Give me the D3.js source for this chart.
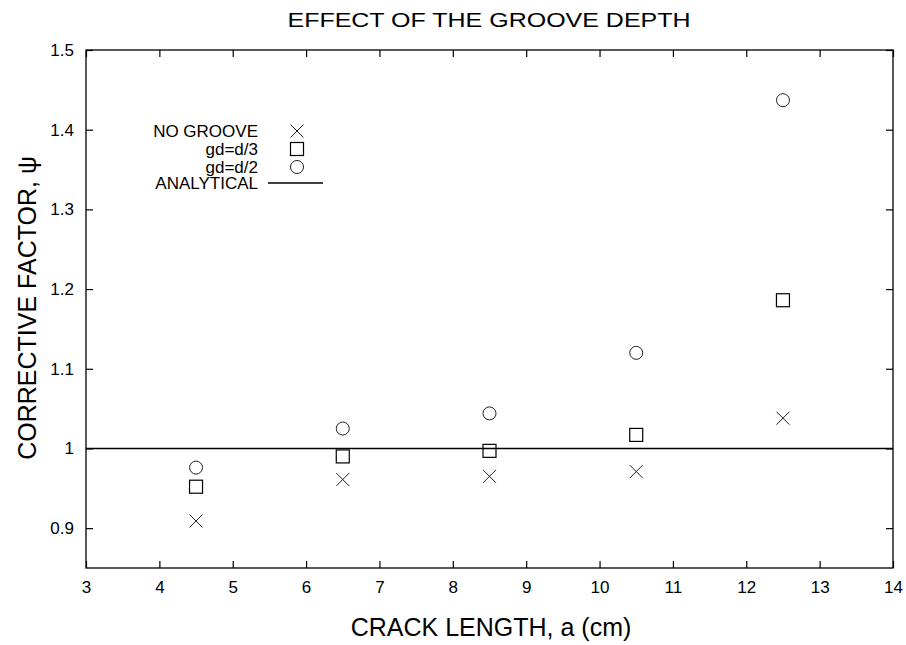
<!DOCTYPE html>
<html>
<head>
<meta charset="utf-8">
<script src="https://cdn.jsdelivr.net/npm/d3@7"></script>
<style>
  html, body { margin: 0; padding: 0; background: #fff; }
  svg { display: block; font-family: "Liberation Sans", Arial, Helvetica, sans-serif; }
</style>
</head>
<body>
<svg id="chart" width="906" height="645"></svg>
<script>
// ---- data ----
const crackLength = [4.5, 6.5, 8.5, 10.5, 12.5];
const noGroove    = [0.909, 0.961, 0.965, 0.971, 1.038];
const gdThird     = [0.952, 0.990, 0.997, 1.017, 1.186];
const gdHalf      = [0.976, 1.025, 1.044, 1.120, 1.437];
const analytical  = 1.0;
const xTicks = [3, 4, 5, 6, 7, 8, 9, 10, 11, 12, 13, 14];
const yTicks = [0.9, 1, 1.1, 1.2, 1.3, 1.4, 1.5];
const legendLabels = ["NO GROOVE", "gd=d/3", "gd=d/2", "ANALYTICAL"];

// ---- layout ----
const svg = d3.select("#chart");
const pLeft = 86, pRight = 893, pTop = 50, pBottom = 568;
const x = d3.scaleLinear().domain([3, 14]).range([pLeft, pRight]);
const y = d3.scaleLinear().domain([0.85, 1.5]).range([pBottom, pTop]);
const tickLen = 7;

// frame
svg.append("rect").attr("x", pLeft).attr("y", pTop)
  .attr("width", pRight - pLeft).attr("height", pBottom - pTop)
  .attr("fill", "none").attr("stroke", "#000").attr("stroke-width", 1.3);

// axes (ticks inward, mirrored)
const fmt = d => String(d);
const bottomAxis = svg.append("g").attr("transform", `translate(0,${pBottom})`)
  .call(d3.axisBottom(x).tickValues(xTicks).tickFormat(fmt).tickSizeInner(-tickLen).tickSizeOuter(0).tickPadding(13));
const topAxis = svg.append("g").attr("transform", `translate(0,${pTop})`)
  .call(d3.axisTop(x).tickValues(xTicks).tickFormat("").tickSizeInner(-tickLen).tickSizeOuter(0));
const leftAxis = svg.append("g").attr("transform", `translate(${pLeft},0)`)
  .call(d3.axisLeft(y).tickValues(yTicks).tickFormat(fmt).tickSizeInner(-tickLen).tickSizeOuter(0).tickPadding(12));
const rightAxis = svg.append("g").attr("transform", `translate(${pRight},0)`)
  .call(d3.axisRight(y).tickValues(yTicks).tickFormat("").tickSizeInner(-tickLen).tickSizeOuter(0));

[bottomAxis, topAxis, leftAxis, rightAxis].forEach(g => {
  g.select(".domain").remove();
  g.attr("font-size", null).attr("font-family", null);
  g.selectAll(".tick line").attr("stroke", "#000").attr("stroke-width", 1.2);
  g.selectAll("text").attr("fill", "#000").style("font-size", "17px")
    .style("font-family", "'Liberation Sans', Arial, sans-serif");
});

// analytical line
svg.append("line")
  .attr("x1", x(3)).attr("x2", x(14))
  .attr("y1", y(analytical)).attr("y2", y(analytical))
  .attr("stroke", "#000").attr("stroke-width", 1.5);

// markers
const s = 6.5;
const crossPath = (cx, cy) => `M${cx - s},${cy - s}L${cx + s},${cy + s}M${cx - s},${cy + s}L${cx + s},${cy - s}`;
const pts = (vals) => crackLength.map((a, i) => ({ a, v: vals[i] }));

svg.append("g").selectAll("path").data(pts(noGroove)).join("path")
  .attr("d", d => crossPath(x(d.a), y(d.v)))
  .attr("stroke", "#222").attr("stroke-width", 1).attr("fill", "none");

svg.append("g").selectAll("rect").data(pts(gdThird)).join("rect")
  .attr("x", d => x(d.a) - s).attr("y", d => y(d.v) - s)
  .attr("width", 2 * s).attr("height", 2 * s)
  .attr("stroke", "#000").attr("stroke-width", 1.2).attr("fill", "none");

svg.append("g").selectAll("circle").data(pts(gdHalf)).join("circle")
  .attr("cx", d => x(d.a)).attr("cy", d => y(d.v)).attr("r", s)
  .attr("stroke", "#222").attr("stroke-width", 1).attr("fill", "none");

// legend
const legX = 258, legSym = 297;
const legY = [131, 149, 167, 183];
legendLabels.forEach((t, i) => {
  svg.append("text").attr("x", legX).attr("y", legY[i] + 6)
    .attr("text-anchor", "end").style("font-size", "17px").text(t);
});
svg.append("path").attr("d", crossPath(legSym, legY[0]))
  .attr("stroke", "#222").attr("stroke-width", 1).attr("fill", "none");
svg.append("rect").attr("x", legSym - s).attr("y", legY[1] - s)
  .attr("width", 2 * s).attr("height", 2 * s)
  .attr("stroke", "#000").attr("stroke-width", 1.2).attr("fill", "none");
svg.append("circle").attr("cx", legSym).attr("cy", legY[2]).attr("r", s)
  .attr("stroke", "#222").attr("stroke-width", 1).attr("fill", "none");
svg.append("line").attr("x1", 268).attr("x2", 323).attr("y1", legY[3]).attr("y2", legY[3])
  .attr("stroke", "#000").attr("stroke-width", 1.5);

// title and axis labels
svg.append("text").attr("transform", "translate(489,27) scale(1.19,1)").attr("text-anchor", "middle")
  .style("font-size", "21px").text("EFFECT OF THE GROOVE DEPTH");
svg.append("text").attr("x", 491).attr("y", 636).attr("text-anchor", "middle")
  .style("font-size", "25px").text("CRACK LENGTH, a (cm)");
svg.append("text").attr("transform", `translate(36,308) rotate(-90)`)
  .attr("text-anchor", "middle").style("font-size", "25px").text("CORRECTIVE FACTOR, ψ");
</script>
</body>
</html>
